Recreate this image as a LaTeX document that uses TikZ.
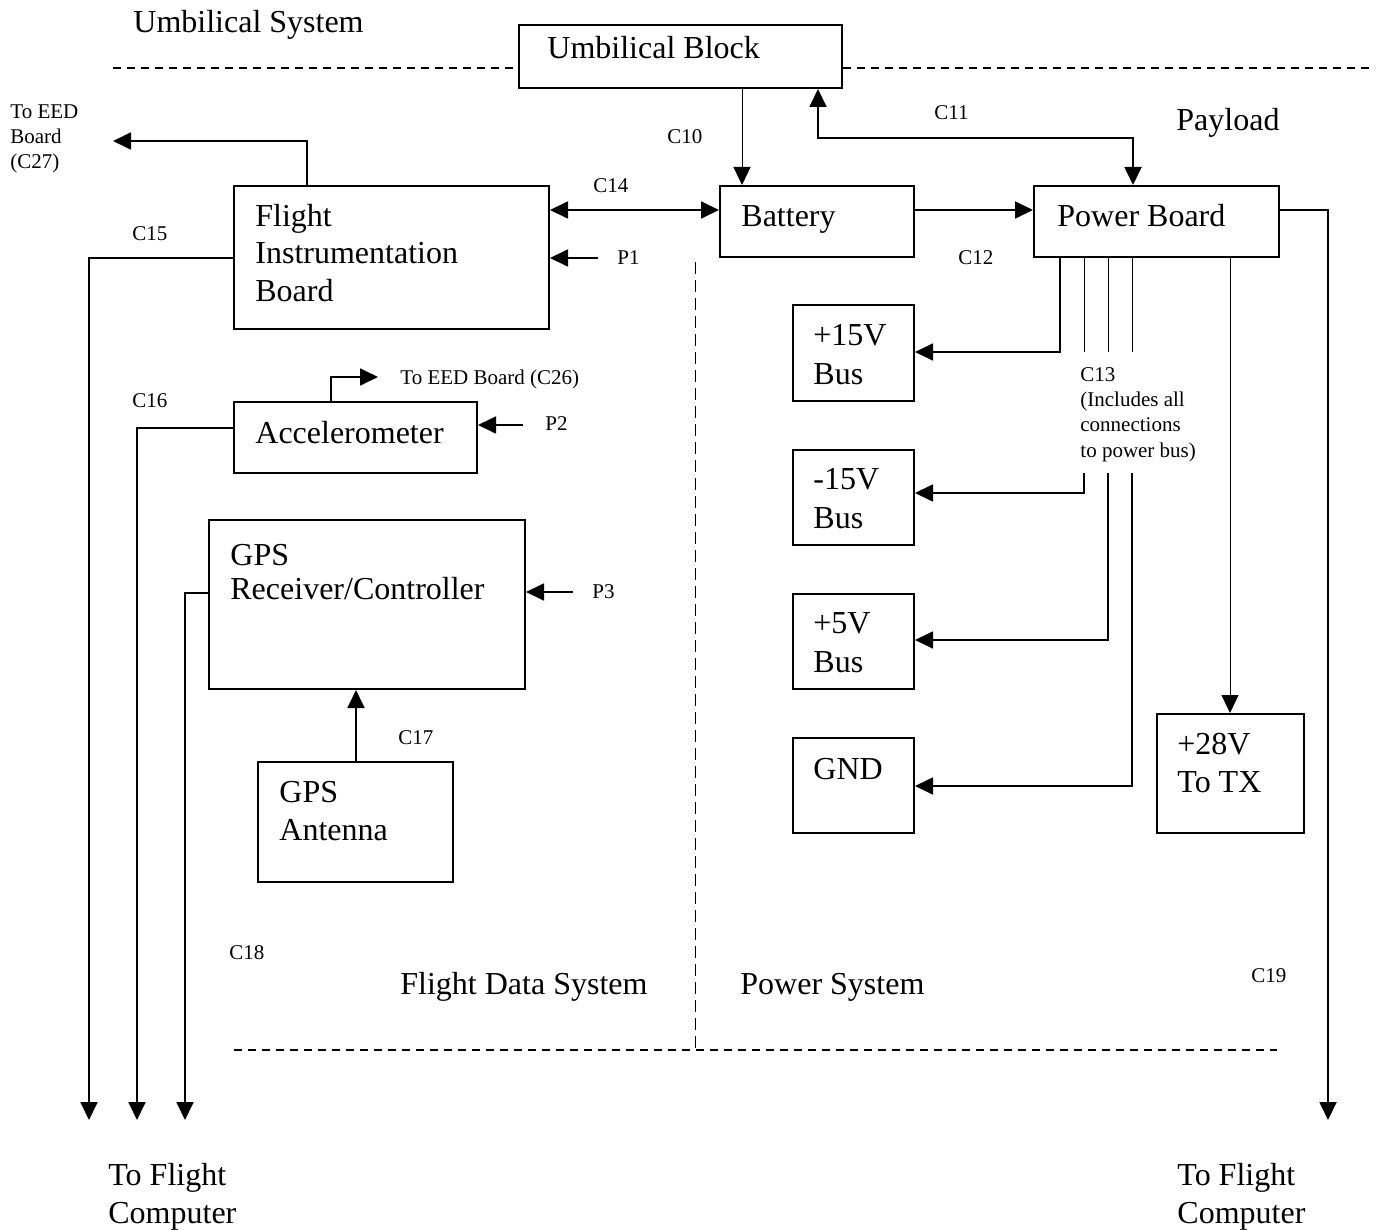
\documentclass[tikz,border=0pt]{standalone}
\usepackage{fontspec}
\setmainfont{Liberation Serif}
\usetikzlibrary{arrows.meta,fit}
\newcommand\bigtxt{\fontsize{16}{18.7}\selectfont}
\newcommand\smalltxt{\fontsize{10.5}{12.6}\selectfont}
\tikzset{
  box/.style={draw, line width=1pt, inner sep=0pt},
  bigtext/.style={anchor=base west, inner sep=0pt, align=left, font=\bigtxt},
  smalltext/.style={anchor=base west, inner sep=0pt, align=left, font=\smalltxt},
  wire/.style={line width=0.9pt},
  fine/.style={line width=0.5pt},
  arr/.style={-{Triangle[length=9pt,width=8.5pt]}},
  sep/.style={line width=0.7pt, dash pattern=on 4pt off 3pt},
}
\begin{document}
\begin{tikzpicture}[x=0.5pt, y=-0.5pt]
    \useasboundingbox (0,0) rectangle (1380,1230);

    % Boxes
    \node[box, fit={(519,25) (842,88)}] (ub) {};
    \node[box, fit={(720,186) (914,257)}] (bat) {};
    \node[box, fit={(1034,186) (1279,257)}] (pb) {};
    \node[box, fit={(234,186) (549,329)}] (fib) {};
    \node[box, fit={(234,402) (477,473)}] (acc) {};
    \node[box, fit={(209,520) (525,689)}] (gps) {};
    \node[box, fit={(258,762) (453,882)}] (ant) {};
    \node[box, fit={(793,305) (914,401)}] (bus15p) {};
    \node[box, fit={(793,450) (914,545)}] (bus15m) {};
    \node[box, fit={(793,594) (914,689)}] (bus5) {};
    \node[box, fit={(793,738) (914,833)}] (gnd) {};
    \node[box, fit={(1157,714) (1304,833)}] (tx) {};

    % Box texts (multi-line ones sit on their last line)
    \node[bigtext] (ubt) at (547,59) {Umbilical Block};
    \node[bigtext] (batt) at (741,227) {Battery};
    \node[bigtext] (pbt) at (1057,227) {Power Board};
    \node[bigtext] (fibt) at (255,301) {Flight\\Instrumentation\\Board};
    \node[bigtext] (acct) at (255,443) {Accelerometer};
    \node[bigtext, font=\fontsize{16}{16.8}\selectfont] (gpst) at (230,599) {GPS\\Receiver/Controller};
    \node[bigtext] (antt) at (279,840) {GPS\\Antenna};
    \node[bigtext, font=\fontsize{16}{19.5}\selectfont] (bus15pt) at (813,384) {+15V\\Bus};
    \node[bigtext, font=\fontsize{16}{19.5}\selectfont] (bus15mt) at (813,528) {-15V\\Bus};
    \node[bigtext, font=\fontsize{16}{19.5}\selectfont] (bus5t) at (813,672) {+5V\\Bus};
    \node[bigtext] (gndt) at (813,779) {GND};
    \node[bigtext] (txt) at (1177,792) {+28V\\To TX};

    % Region names
    \node[bigtext] (umb) at (133,33) {Umbilical System};
    \node[bigtext] (pay) at (1176,131) {Payload};
    \node[bigtext] (fds) at (400,994) {Flight Data System};
    \node[bigtext] (psys) at (740,994) {Power System};
    \node[bigtext] (fcl) at (108,1223) {To Flight\\Computer};
    \node[bigtext] (fcr) at (1177,1223) {To Flight\\Computer};

    % Free ends
    \coordinate (eed27) at (113,141);
    \coordinate (eed26) at (378,377);
    \coordinate (p1) at (598,258);
    \coordinate (p2) at (523,425);
    \coordinate (p3) at (573,592);
    \coordinate (fc15) at (89,1120);
    \coordinate (fc16) at (137,1120);
    \coordinate (fc18) at (185,1120);
    \coordinate (fc19) at (1328,1120);

    % Separators
    \draw[sep] (113,68) -- (ub.west |- 0,68);
    \draw[sep] (ub.east |- 0,68) -- (1375,68);
    \draw[sep, line width=0.5pt, dash pattern=on 6pt off 3pt] (695,262) -- (695,1050);
    \draw[sep] (234,1050) -- (1277,1050);

    % Connections
    \draw[fine, arr] (ub.south -| 742,0) -- (bat.north -| 742,0);
    \draw[wire, {Triangle[length=9pt,width=8.5pt]}-{Triangle[length=9pt,width=8.5pt]}] (pb.north -| 1133,0) |- (818,138) -- (ub.south -| 818,0);
    \draw[wire, arr] (bat.east |- 0,210) -- (pb.west |- 0,210);
    \draw[wire, {Triangle[length=9pt,width=8.5pt]}-{Triangle[length=9pt,width=8.5pt]}] (fib.east |- 0,210) -- (bat.west |- 0,210);
    \draw[wire, arr] (p1) -- (fib.east |- p1);
    \draw[wire, arr] (fib.north -| 307,0) |- (eed27);
    \draw[wire, arr] (fib.west |- 0,258) -| (fc15);
    \draw[wire, arr] (acc.north -| 331,0) |- (eed26);
    \draw[wire, arr] (p2) -- (acc.east |- p2);
    \draw[wire, arr] (acc.west |- 0,428) -| (fc16);
    \draw[wire, arr] (p3) -- (gps.east |- p3);
    \draw[wire, arr] (gps.west |- 0,593) -| (fc18);
    \draw[wire, arr] (ant.north -| 356,0) -- (gps.south -| 356,0);
    \draw[wire, arr] (pb.east |- 0,210) -| (fc19);

    % Power bus
    \draw[wire, arr] (pb.south -| 1060,0) |- (bus15p.east |- 0,352);
    \foreach \x in {1084,1108,1132}
        \draw[fine] (pb.south -| \x,0) -- (\x,352);
    \draw[wire, arr] (1084,473) |- (bus15m.east |- 0,493);
    \draw[wire, arr] (1108,473) |- (bus5.east |- 0,640);
    \draw[wire, arr] (1132,473) |- (gnd.east |- 0,786);
    \draw[fine, arr] (pb.south -| 1230,0) -- (tx.north -| 1230,0);

    % Connector labels
    \node[smalltext] (l27) at (10,169) {To EED\\Board\\(C27)};
    \node[smalltext] (l10) at (667,144) {C10};
    \node[smalltext] (l11) at (934,120) {C11};
    \node[smalltext] (l14) at (593,193) {C14};
    \node[smalltext] (lp1) at (617,264) {P1};
    \node[smalltext] (l12) at (958,264) {C12};
    \node[smalltext] (l15) at (132,241) {C15};
    \node[smalltext] (l16) at (132,407) {C16};
    \node[smalltext] (l26) at (400,384) {To EED Board (C26)};
    \node[smalltext] (lp2) at (545,430) {P2};
    \node[smalltext] (lp3) at (592,598) {P3};
    \node[smalltext] (l13) at (1080,457) {C13\\(Includes all\\connections\\to power bus)};
    \node[smalltext] (l17) at (398,744) {C17};
    \node[smalltext] (l18) at (229,959) {C18};
    \node[smalltext] (l19) at (1251,982) {C19};
\end{tikzpicture}
\end{document}
